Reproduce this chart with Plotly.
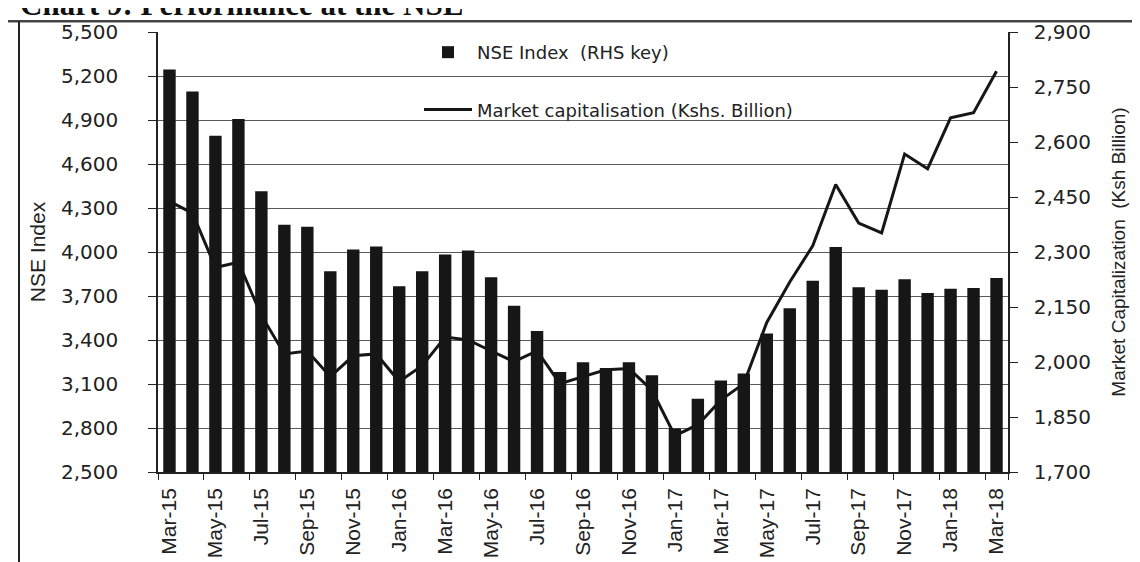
import plotly.graph_objects as go

# ---------------------------------------------------------
# data
# ---------------------------------------------------------
months = [
    "Mar-15", "Apr-15", "May-15", "Jun-15", "Jul-15", "Aug-15", "Sep-15", "Oct-15",
    "Nov-15", "Dec-15", "Jan-16", "Feb-16", "Mar-16", "Apr-16", "May-16", "Jun-16",
    "Jul-16", "Aug-16", "Sep-16", "Oct-16", "Nov-16", "Dec-16", "Jan-17", "Feb-17",
    "Mar-17", "Apr-17", "May-17", "Jun-17", "Jul-17", "Aug-17", "Sep-17", "Oct-17",
    "Nov-17", "Dec-17", "Jan-18", "Feb-18", "Mar-18",
]

nse_index = [
    5244, 5095, 4792, 4907, 4415, 4185, 4172, 3869, 4017, 4037,
    3767, 3869, 3983, 4010, 3828, 3634, 3462, 3182, 3249, 3209,
    3249, 3160, 2796, 2999, 3124, 3172, 3445, 3616, 3804, 4034,
    3760, 3742, 3815, 3720, 3749, 3755, 3822,
]

market_cap = [
    2438, 2406, 2258, 2272, 2127, 2022, 2030, 1960, 2017, 2022,
    1947, 1990, 2068, 2060, 2030, 2001, 2030, 1941, 1960, 1979,
    1982, 1923, 1799, 1829, 1896, 1941, 2108, 2218, 2317, 2484,
    2379, 2352, 2567, 2527, 2666, 2680, 2793,
]

left_ticks = [2500, 2800, 3100, 3400, 3700, 4000, 4300, 4600, 4900, 5200, 5500]
right_ticks = [1700, 1850, 2000, 2150, 2300, 2450, 2600, 2750, 2900]

# ---------------------------------------------------------
# styling
# ---------------------------------------------------------
W, H = 1140, 562
L, R, T, B = 150, 140, 23, 92
PW, PH = W - L - R, H - T - B

INK = "#161616"
GRID = "#5a5a5a"
NUM_FONT = dict(family="DejaVu Sans, Verdana, sans-serif", size=20, color="#222")
NARROW = "Liberation Sans Narrow, Arial Narrow, Liberation Sans, sans-serif"


def px_x(px):
    return (px - L) / PW


def px_y(py):
    return 1 - (py - T) / PH


fig = go.Figure()

fig.add_trace(go.Bar(
    x=months, y=nse_index,
    name="NSE Index \u00a0(RHS key)",
    legendgroup="a",
    marker=dict(color=INK, line=dict(width=0)),
    yaxis="y",
))

fig.add_trace(go.Scatter(
    x=months, y=market_cap,
    name="Market capitalisation (Kshs. Billion)",
    legendgroup="b",
    mode="lines",
    line=dict(color=INK, width=3),
    yaxis="y2",
))

fig.update_layout(
    width=W, height=H,
    margin=dict(l=L, r=R, t=T, b=B),
    paper_bgcolor="white",
    plot_bgcolor="white",
    bargap=0.46,
    showlegend=True,
    legend=dict(
        x=px_x(411), y=px_y(25), xanchor="left", yanchor="top",
        bgcolor="rgba(0,0,0,0)",
        font=dict(family="DejaVu Sans, Verdana, sans-serif", size=18, color="#222"),
        traceorder="grouped",
        tracegroupgap=31,
        itemwidth=48,
    ),
    xaxis=dict(
        type="category",
        tickmode="array",
        tickvals=months[::2],
        tickson="boundaries",
        ticks="outside", ticklen=6, tickcolor="#222",
        tickangle=-90,
        tickfont=dict(family=NARROW, size=21, color="#222"),
        ticklabelstandoff=6,
        showgrid=False,
        showline=True, linecolor="#222", linewidth=1.5,
        range=[-0.5, len(months) - 0.5],
    ),
    yaxis=dict(
        range=[2500, 5500],
        tickmode="array", tickvals=left_ticks,
        tickformat=",",
        ticks="outside", ticklen=8, tickcolor="#222",
        tickfont=NUM_FONT,
        ticklabelstandoff=26,
        showgrid=True, gridcolor=GRID, gridwidth=1,
        showline=True, linecolor="#222", linewidth=1.5,
        zeroline=False,
        title=dict(text="NSE Index", font=dict(family=NARROW, size=21, color="#222"),
                   standoff=10),
    ),
    yaxis2=dict(
        range=[1700, 2900],
        overlaying="y", side="right",
        tickmode="array", tickvals=right_ticks,
        tickformat=",",
        ticks="outside", ticklen=8, tickcolor="#222",
        tickfont=NUM_FONT,
        ticklabelstandoff=12,
        showgrid=False,
        showline=True, linecolor="#222", linewidth=1.5,
        zeroline=False,
        title=dict(text="Market Capitalization  (Ksh Billion)",
                   font=dict(family=NARROW, size=19, color="#222"),
                   standoff=22),
    ),
)

# chart title, partly cut off at the top of the scan
fig.add_annotation(
    text="<b>Chart 9: Performance at the NSE</b>",
    xref="paper", yref="paper",
    x=px_x(10), y=px_y(15), xanchor="left", yanchor="bottom",
    showarrow=False,
    font=dict(family="Liberation Serif, Times New Roman, serif", size=31, color="#111"),
)

# box around the chart
fig.add_shape(type="line", xref="paper", yref="paper",
              x0=px_x(0), x1=px_x(W), y0=px_y(12), y1=px_y(12),
              line=dict(color="#444", width=2.5))
fig.add_shape(type="line", xref="paper", yref="paper",
              x0=px_x(11), x1=px_x(11), y0=px_y(12), y1=px_y(H),
              line=dict(color="#222", width=2))

fig.write_html("out.html")
